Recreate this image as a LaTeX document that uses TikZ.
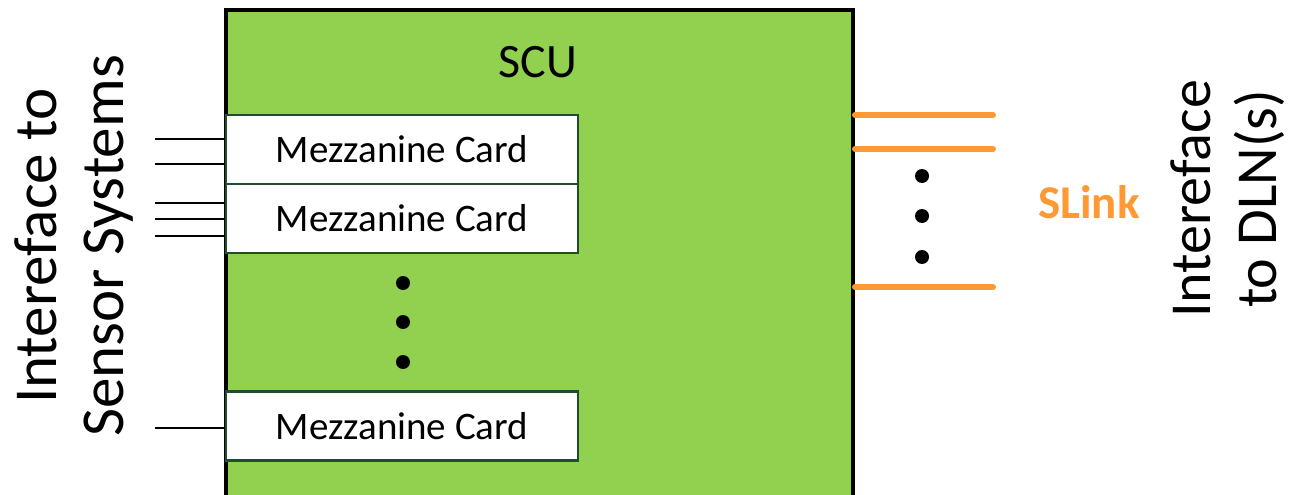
\documentclass[tikz,border=0pt]{standalone}
\usepackage{fontspec}
\setmainfont{Carlito}
\definecolor{scugreen}{HTML}{92D050}
\definecolor{cardedge}{HTML}{1F4E2C}
\definecolor{slinkorange}{HTML}{FF9933}
\tikzset{
  unitbox/.style={draw=black, line width=4pt, fill=scugreen,
    minimum width=627pt, minimum height=500pt, inner sep=0pt},
  card/.style={draw=cardedge, line width=2.5pt, fill=white,
    minimum width=352pt, minimum height=69pt, inner sep=0pt,
    font=\fontsize{39}{42}\selectfont},
  wire/.style={draw=black, line width=2pt},
  slinkwire/.style={draw=slinkorange, line width=6pt, line cap=round},
  dotmark/.style={circle, fill=black, minimum size=14pt, inner sep=0pt},
  sidelabel/.style={rotate=90, align=center, inner sep=0pt}
}
\begin{document}
\begin{tikzpicture}[x=1pt,y=-1pt]
  \useasboundingbox (0,0) rectangle (1291,495);
  \begin{scope}
    \clip (0,0) rectangle (1291,495);
    % the sensor control unit
    \node[unitbox] (scu) at (539.5,260) {};
  \end{scope}
  \node[font=\fontsize{48}{52}\selectfont] (scutitle) at (538,62) {SCU};

  % mezzanine cards
  \node[card] (m1) at (402,149.5) {Mezzanine Card};
  \node[card] (m2) at (402,218.5) {Mezzanine Card};
  \node[card] (m3) at (402,426) {Mezzanine Card};

  \node[dotmark] (d1) at (403,283) {};
  \node[dotmark] (d2) at (403,322) {};
  \node[dotmark] (d3) at (403,362) {};

  % sensor-side wires
  \coordinate (s1) at (155,139);
  \coordinate (s2) at (155,164);
  \coordinate (s3) at (155,203);
  \coordinate (s4) at (155,219);
  \coordinate (s5) at (155,236);
  \coordinate (s6) at (155,428);
  \draw[wire] (s1) -- (s1 -| m1.west);
  \draw[wire] (s2) -- (s2 -| m1.west);
  \draw[wire] (s3) -- (s3 -| m2.west);
  \draw[wire] (s4) -- (s4 -| m2.west);
  \draw[wire] (s5) -- (s5 -| m2.west);
  \draw[wire] (s6) -- (s6 -| m3.west);

  % SLink outputs
  \coordinate (o1) at (993,115);
  \coordinate (o2) at (993,149);
  \coordinate (o3) at (993,287);
  \draw[slinkwire] (o1 -| scu.east) -- (o1);
  \draw[slinkwire] (o2 -| scu.east) -- (o2);
  \draw[slinkwire] (o3 -| scu.east) -- (o3);

  \node[dotmark] (r1) at (922,176) {};
  \node[dotmark] (r2) at (922,216) {};
  \node[dotmark] (r3) at (922,257) {};

  \node[text=slinkorange, font=\fontsize{47}{50}\selectfont\bfseries] (slink) at (1089,202) {SLink};

  % side labels
  \node[sidelabel, font=\fontsize{61}{67}\selectfont] (sensorif) at (74,246) {Intereface to\\Sensor Systems};
  \node[sidelabel, font=\fontsize{58}{66}\selectfont] (dlnif) at (1228,199) {Intereface\\to DLN(s)};
\end{tikzpicture}
\end{document}
